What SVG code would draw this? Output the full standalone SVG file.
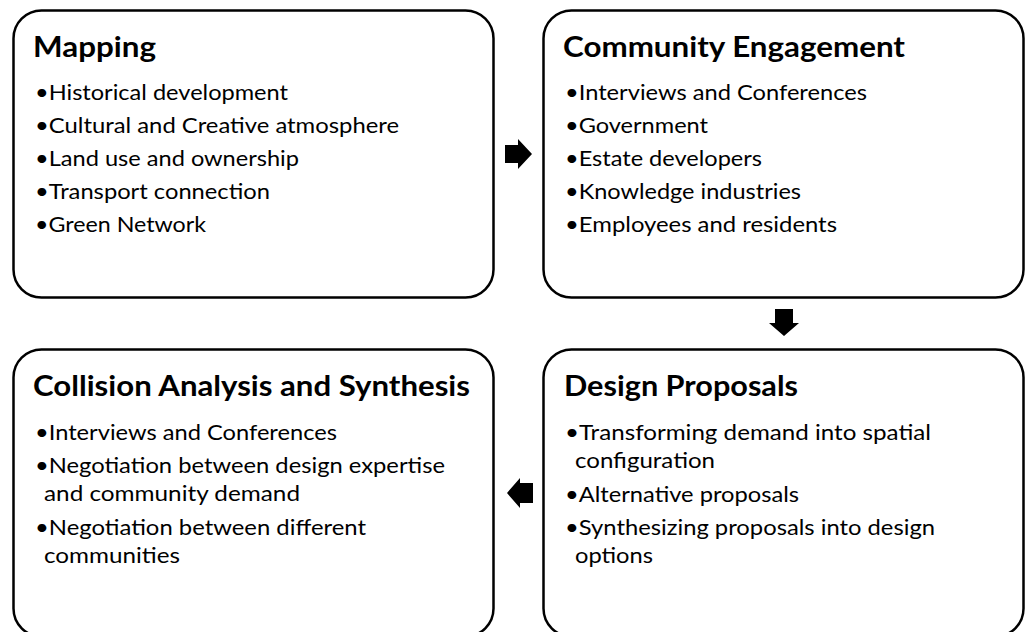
<svg xmlns="http://www.w3.org/2000/svg" width="1028" height="632" viewBox="0 0 1028 632">
<style>
.box{fill:#fff;stroke:#000;stroke-width:2.5}
.t{font-family:Lato,"Liberation Sans",sans-serif;font-weight:bold;font-size:29px;fill:#000}
.b{font-family:Lato,"Liberation Sans",sans-serif;font-size:22px;fill:#000}
.arr{fill:#000}
</style>
<rect width="1028" height="632" fill="#fff"/>
<g id="mapping">
<rect class="box" x="13.5" y="10.5" width="480" height="287" rx="28"/>
<text class="t" x="33" y="57" textLength="123" lengthAdjust="spacingAndGlyphs">Mapping</text>
<text class="b" x="35" y="100" textLength="253" lengthAdjust="spacingAndGlyphs">•Historical development</text>
<text class="b" x="35" y="133" textLength="364" lengthAdjust="spacingAndGlyphs">•Cultural and Creative atmosphere</text>
<text class="b" x="35" y="166" textLength="264" lengthAdjust="spacingAndGlyphs">•Land use and ownership</text>
<text class="b" x="35" y="199" textLength="235" lengthAdjust="spacingAndGlyphs">•Transport connection</text>
<text class="b" x="35" y="232" textLength="171" lengthAdjust="spacingAndGlyphs">•Green Network</text>
</g>
<g id="community">
<rect class="box" x="543.5" y="10.5" width="480" height="287" rx="28"/>
<text class="t" x="563" y="57" textLength="342" lengthAdjust="spacingAndGlyphs">Community Engagement</text>
<text class="b" x="565" y="100" textLength="302" lengthAdjust="spacingAndGlyphs">•Interviews and Conferences</text>
<text class="b" x="565" y="133" textLength="143" lengthAdjust="spacingAndGlyphs">•Government</text>
<text class="b" x="565" y="166" textLength="197" lengthAdjust="spacingAndGlyphs">•Estate developers</text>
<text class="b" x="565" y="199" textLength="236" lengthAdjust="spacingAndGlyphs">•Knowledge industries</text>
<text class="b" x="565" y="232" textLength="272" lengthAdjust="spacingAndGlyphs">•Employees and residents</text>
</g>
<g id="collision">
<rect class="box" x="13.5" y="349.5" width="480" height="287" rx="28"/>
<text class="t" x="33" y="396" textLength="437" lengthAdjust="spacingAndGlyphs">Collision Analysis and Synthesis</text>
<text class="b" x="35" y="440" textLength="302" lengthAdjust="spacingAndGlyphs">•Interviews and Conferences</text>
<text class="b" x="35" y="473" textLength="410" lengthAdjust="spacingAndGlyphs">•Negotiation between design expertise</text>
<text class="b" x="44" y="501" textLength="256" lengthAdjust="spacingAndGlyphs">and community demand</text>
<text class="b" x="35" y="535" textLength="331" lengthAdjust="spacingAndGlyphs">•Negotiation between different</text>
<text class="b" x="44" y="563" textLength="136" lengthAdjust="spacingAndGlyphs">communities</text>
</g>
<g id="design">
<rect class="box" x="543.5" y="349.5" width="480" height="287" rx="28"/>
<text class="t" x="564" y="396" textLength="234" lengthAdjust="spacingAndGlyphs">Design Proposals</text>
<text class="b" x="565" y="440" textLength="366" lengthAdjust="spacingAndGlyphs">•Transforming demand into spatial</text>
<text class="b" x="575" y="468" textLength="140" lengthAdjust="spacingAndGlyphs">configuration</text>
<text class="b" x="565" y="502" textLength="234" lengthAdjust="spacingAndGlyphs">•Alternative proposals</text>
<text class="b" x="565" y="535" textLength="370" lengthAdjust="spacingAndGlyphs">•Synthesizing proposals into design</text>
<text class="b" x="575" y="563" textLength="78" lengthAdjust="spacingAndGlyphs">options</text>
</g>
<g id="connectors">
<polygon class="arr" points="505,145 518,145 518,139 532,154 518,169 518,163 505,163"/>
<polygon class="arr" points="775,309 793,309 793,323 799,323 784,336 769,323 775,323"/>
<polygon class="arr" points="533,483 520,483 520,478 507,493 520,508 520,503 533,503"/>
</g>
</svg>
